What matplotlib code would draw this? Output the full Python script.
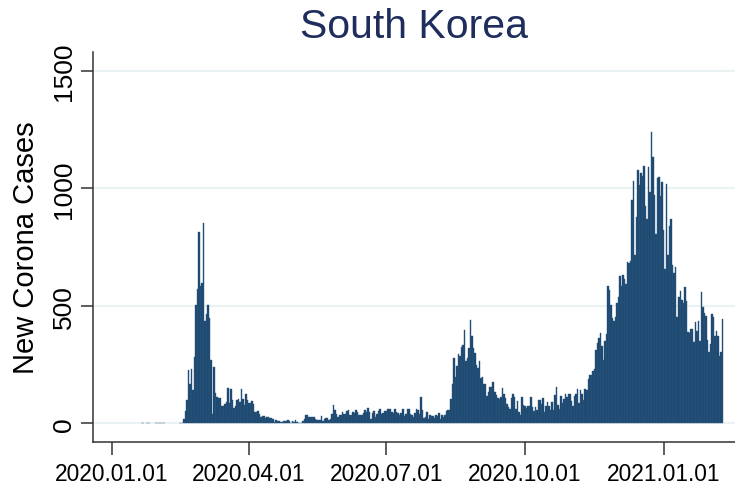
import numpy as np
import pandas as pd
import matplotlib
matplotlib.use("Agg")
import matplotlib.pyplot as plt
import matplotlib.dates as mdates

# daily new cases, South Korea (one value per day, Jan 20 2020 -> Feb 9 2021)
jan_2020 = [0, 1, 1, 0, 1, 1, 1, 0, 0, 0, 4, 3]
feb_2020 = [1, 3, 1, 2, 4, 0, 0, 0, 0, 0, 0, 0, 0, 0, 1, 1, 1,
            20, 53, 100, 229, 169, 231, 144, 284, 505, 571, 813, 586]
mar_2020 = [599, 851, 435, 467, 505, 448, 272, 40, 242, 131, 114, 110, 107, 76, 74,
            84, 93, 152, 87, 147, 98, 64, 76, 100, 104, 91, 146, 105, 78, 125, 101]
apr_2020 = [89, 86, 94, 81, 47, 47, 53, 39, 27, 30, 32, 25, 27, 27, 22,
            22, 18, 8, 13, 9, 11, 8, 6, 10, 10, 10, 14, 9, 4, 9]
may_2020 = [6, 13, 8, 3, 2, 4, 12, 18, 34, 35, 27, 26, 29, 27, 19, 13,
            15, 13, 32, 12, 20, 23, 25, 16, 19, 40, 79, 58, 39, 27, 35]
jun_2020 = [38, 49, 39, 39, 51, 57, 38, 38, 50, 45, 56, 49, 34, 37, 34,
            43, 59, 49, 67, 48, 17, 46, 51, 28, 39, 51, 62, 42, 43, 51]
jul_2020 = [54, 63, 63, 61, 48, 44, 63, 50, 45, 35, 44, 62, 33, 39, 61, 60,
            39, 34, 26, 45, 63, 59, 41, 113, 58, 25, 28, 48, 18, 36, 31]
aug_2020 = [30, 23, 34, 33, 43, 20, 36, 28, 34, 54, 56, 56, 103, 166, 279, 197,
            246, 297, 288, 324, 332, 397, 266, 280, 320, 441, 371, 323, 299, 248, 235]
sep_2020 = [267, 195, 198, 168, 167, 119, 136, 156, 155, 176, 136, 121, 109, 106, 113,
            153, 126, 110, 82, 70, 61, 110, 125, 114, 61, 95, 50, 38, 113, 77]
oct_2020 = [75, 64, 73, 75, 114, 69, 54, 72, 58, 98, 102, 84, 110, 47, 73, 91,
            76, 58, 91, 58, 121, 155, 77, 61, 119, 88, 103, 125, 114, 127, 124]
nov_2020 = [97, 75, 118, 125, 145, 89, 143, 126, 100, 146, 143, 191, 205, 208, 223,
            230, 313, 343, 363, 386, 330, 271, 349, 382, 583, 569, 504, 450, 438, 451]
dec_2020 = [511, 540, 629, 583, 631, 615, 594, 686, 682, 689, 950, 1030, 718, 880, 1078, 1014,
            1064, 1053, 1097, 926, 869, 1092, 985, 1241, 1132, 970, 807, 1045, 1050, 967, 1029]
jan_2021 = [824, 657, 1020, 715, 840, 869, 674, 641, 665, 451, 537, 562, 524, 513, 580, 520,
            389, 386, 404, 400, 346, 431, 392, 437, 349, 559, 497, 469, 458, 355, 305]
feb_2021 = [336, 467, 451, 370, 393, 371, 289, 303, 444]

first_day = "2020-01-20"
tick_dates = ["2020-01-01", "2020-04-01", "2020-07-01", "2020-10-01", "2021-01-01"]
y_ticks = [0, 500, 1000, 1500]

cases = np.array(jan_2020 + feb_2020 + mar_2020 + apr_2020 + may_2020 + jun_2020
                 + jul_2020 + aug_2020 + sep_2020 + oct_2020 + nov_2020 + dec_2020
                 + jan_2021 + feb_2021, dtype=float)
days = pd.date_range(first_day, periods=len(cases), freq="D")
keep = cases > 0

plt.rcParams["font.family"] = ["Liberation Sans", "DejaVu Sans"]

fig = plt.figure(figsize=(7.35, 4.89), dpi=100)
ax = fig.add_axes([92.5 / 735, 1 - 443.3 / 489, 1 - 92.5 / 735, (443.3 - 53) / 489])

for y in y_ticks:
    ax.axhline(y, color="#eaf2f3", lw=1.5, zorder=0)

ax.bar(days[keep], cases[keep], width=1.0, color="#1a476f",
       edgecolor="#2f5880", linewidth=0.3, zorder=2)

ax.set_xlim(mdates.date2num(pd.Timestamp("2019-12-19 07:00")),
            mdates.date2num(pd.Timestamp("2021-02-17 07:00")))
ax.set_ylim(-80, 1580)

ax.set_xticks([mdates.date2num(pd.Timestamp(d)) for d in tick_dates])
ax.xaxis.set_major_formatter(mdates.DateFormatter("%Y.%m.%d"))
ax.set_yticks(y_ticks)

ax.tick_params(axis="x", length=9, width=1.1, color="#333333", pad=5.5, labelsize=16.4)
ax.tick_params(axis="y", length=8.3, width=1.1, color="#333333", pad=3.8, labelsize=19)
for lab in ax.get_yticklabels():
    lab.set_rotation(90)
    lab.set_va("center")

for side in ["top", "right"]:
    ax.spines[side].set_visible(False)
for side in ["left", "bottom"]:
    ax.spines[side].set_linewidth(1.1)
    ax.spines[side].set_color("#333333")

ax.set_ylabel("New Corona Cases", fontsize=21)
ax.yaxis.set_label_coords(-0.082, 0.5)
ax.set_title("South Korea", fontsize=29.5, color="#1f2d5c", pad=11)

fig.savefig("out.png", dpi=100)
